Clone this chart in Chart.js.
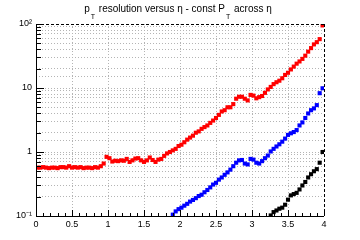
<!DOCTYPE html>
<html>
<head>
<meta charset="utf-8">
<script src="https://cdn.jsdelivr.net/npm/chart.js@4.4.1/dist/chart.umd.min.js"></script>
<style>
  html, body { margin: 0; padding: 0; background: #fff; }
  canvas { display: block; }
</style>
</head>
<body>
<canvas id="resolution" width="360" height="240"></canvas>
<script>
// bin centres in eta (100 bins from 0 to 4)
const etaBins = Array.from({ length: 100 }, (_, i) => +(0.02 + i * 0.04).toFixed(2));

// pT resolution, red series
const resRed = [
  0.57, 0.57, 0.58, 0.57, 0.56, 0.57, 0.57, 0.56, 0.58, 0.58,
  0.57, 0.60, 0.57, 0.58, 0.57, 0.58, 0.56, 0.57, 0.57, 0.56,
  0.58, 0.57, 0.60, 0.66, 0.84, 0.80, 0.71, 0.73, 0.72, 0.74,
  0.73, 0.78, 0.70, 0.74, 0.79, 0.80, 0.74, 0.70, 0.74, 0.82,
  0.75, 0.70, 0.76, 0.78, 0.87, 0.95, 1.00, 1.06, 1.12, 1.24,
  1.30, 1.42, 1.56, 1.68, 1.80, 2.00, 2.10, 2.30, 2.45, 2.60,
  2.85, 3.10, 3.40, 3.80, 4.30, 4.50, 5.00, 5.00, 5.60, 6.80,
  7.30, 7.30, 6.80, 6.40, 7.80, 7.60, 6.90, 7.20, 7.50, 8.40,
  9.50, 10.4, 11.5, 12.3, 13.0, 14.2, 16.0, 17.3, 19.5, 21.6,
  24.0, 26.0, 28.5, 32.0, 37.0, 42.0, 48.0, 52.0, 58.0, 95.0
];

// blue series, starts at eta ~1.9
const resBlue = [
  null, null, null, null, null, null, null, null, null, null,
  null, null, null, null, null, null, null, null, null, null,
  null, null, null, null, null, null, null, null, null, null,
  null, null, null, null, null, null, null, null, null, null,
  null, null, null, null, null, null, null, 0.105, 0.118, 0.128,
  0.135, 0.145, 0.155, 0.168, 0.178, 0.19, 0.205, 0.215, 0.235, 0.255,
  0.28, 0.31, 0.33, 0.37, 0.40, 0.44, 0.48, 0.53, 0.60, 0.68,
  0.74, 0.75, 0.66, 0.64, 0.78, 0.76, 0.68, 0.66, 0.72, 0.80,
  0.88, 1.02, 1.12, 1.22, 1.32, 1.45, 1.62, 1.85, 1.96, 2.05,
  2.20, 2.60, 2.90, 3.40, 4.00, 4.50, 4.80, 5.40, 8.30, 9.90
];

// black series, starts at eta ~3.25
const resBlack = [
  null, null, null, null, null, null, null, null, null, null,
  null, null, null, null, null, null, null, null, null, null,
  null, null, null, null, null, null, null, null, null, null,
  null, null, null, null, null, null, null, null, null, null,
  null, null, null, null, null, null, null, null, null, null,
  null, null, null, null, null, null, null, null, null, null,
  null, null, null, null, null, null, null, null, null, null,
  null, null, null, null, null, null, null, null, null, null,
  null, 0.102, 0.115, 0.122, 0.13, 0.135, 0.15, 0.18, 0.21, 0.22,
  0.23, 0.26, 0.30, 0.34, 0.40, 0.45, 0.50, 0.54, 0.68, 1.00
];

const yDecades = { 0.1: '10\u207B\u00B9', 1: '1', 10: '10', 100: '10\u00B2' };

function toPoints(vals) {
  return etaBins.map((x, i) => ({ x: x, y: vals[i] }));
}

function serie(vals, colour) {
  return {
    data: toPoints(vals),
    showLine: false,
    pointStyle: 'rect',
    pointRadius: 2.9,
    pointBorderWidth: 0,
    backgroundColor: colour,
    borderColor: colour
  };
}

// ROOT style frame: inward ticks, dashed top/right edges, title with subscripts
const rootFrame = {
  id: 'rootFrame',
  afterDraw(chart) {
    const ctx = chart.ctx;
    const a = chart.chartArea;
    const xs = chart.scales.x;
    const ys = chart.scales.y;
    ctx.save();
    ctx.strokeStyle = '#000';
    ctx.lineWidth = 1;

    // dashed top and right
    ctx.setLineDash([3, 2]);
    ctx.beginPath();
    ctx.moveTo(a.left, a.top + 0.5);
    ctx.lineTo(a.right, a.top + 0.5);
    ctx.moveTo(a.right + 0.5, a.top);
    ctx.lineTo(a.right + 0.5, a.bottom);
    ctx.stroke();
    ctx.setLineDash([]);

    // solid left and bottom axes
    ctx.beginPath();
    ctx.moveTo(a.left + 0.5, a.top);
    ctx.lineTo(a.left + 0.5, a.bottom + 0.5);
    ctx.lineTo(a.right, a.bottom + 0.5);
    ctx.stroke();

    // x ticks, every 0.1, longer at 0.5
    ctx.beginPath();
    for (let k = 0; k <= 40; k++) {
      const px = Math.round(xs.getPixelForValue(k / 10)) + 0.5;
      const len = k % 5 === 0 ? 6 : 3;
      ctx.moveTo(px, a.bottom);
      ctx.lineTo(px, a.bottom - len);
    }
    // y ticks, 1..9 per decade
    for (let e = -1; e <= 1; e++) {
      for (let m = 1; m <= 9; m++) {
        const v = m * Math.pow(10, e);
        const py = Math.round(ys.getPixelForValue(v)) + 0.5;
        const len = m === 1 ? 8 : 5;
        ctx.moveTo(a.left, py);
        ctx.lineTo(a.left + len, py);
      }
    }
    const pTop = Math.round(ys.getPixelForValue(100)) + 0.5;
    ctx.moveTo(a.left, pTop);
    ctx.lineTo(a.left + 8, pTop);
    ctx.stroke();

    // title
    const parts = [
      ['p', false], ['T', true], [' resolution versus \u03B7 - const P', false],
      ['T', true], [' across \u03B7', false]
    ];
    const big = '10px "Liberation Sans", Arial, sans-serif';
    const small = '7px "Liberation Sans", Arial, sans-serif';
    let w = 0;
    parts.forEach(p => { ctx.font = p[1] ? small : big; w += ctx.measureText(p[0]).width + (p[1] ? 2 : 0); });
    let x = 178 - w / 2;
    ctx.fillStyle = '#000';
    ctx.textBaseline = 'alphabetic';
    parts.forEach(p => {
      ctx.font = p[1] ? small : big;
      ctx.fillText(p[0], x + (p[1] ? 1 : 0), p[1] ? 19 : 12);
      x += ctx.measureText(p[0]).width + (p[1] ? 2 : 0);
    });
    ctx.restore();
  }
};

new Chart(document.getElementById('resolution'), {
  type: 'scatter',
  data: {
    datasets: [serie(resRed, '#ff0000'), serie(resBlue, '#0000ff'), serie(resBlack, '#000000')]
  },
  options: {
    responsive: false,
    animation: false,
    layout: { padding: { left: 0, top: 24, right: 36, bottom: 0 } },
    plugins: { legend: { display: false }, tooltip: { enabled: false } },
    scales: {
      x: {
        type: 'linear',
        min: 0,
        max: 4,
        afterFit: s => { s.height = 24; },
        ticks: {
          stepSize: 0.5,
          padding: 3,
          color: '#000',
          font: { family: '"Liberation Sans", Arial, sans-serif', size: 9 },
          maxRotation: 0,
          callback: v => String(+v.toFixed(1))
        },
        grid: {
          drawTicks: false,
          color: ctx => (ctx.tick && ctx.tick.value > 0 && ctx.tick.value < 4) ? '#b4b4b4' : 'transparent'
        },
        border: { display: false, dash: [1, 2] }
      },
      y: {
        type: 'logarithmic',
        min: 0.1,
        max: 100,
        afterFit: s => { s.width = 36; },
        ticks: {
          autoSkip: false,
          padding: 4,
          color: '#000',
          font: { family: '"Liberation Sans", Arial, sans-serif', size: 9 },
          callback: v => yDecades[v] !== undefined ? yDecades[v] : ''
        },
        grid: {
          drawTicks: false,
          color: ctx => (ctx.tick && ctx.tick.value > 0.1 && ctx.tick.value < 100) ? '#b4b4b4' : 'transparent'
        },
        border: { display: false, dash: [1, 2] }
      }
    }
  },
  plugins: [rootFrame]
});
</script>
</body>
</html>
